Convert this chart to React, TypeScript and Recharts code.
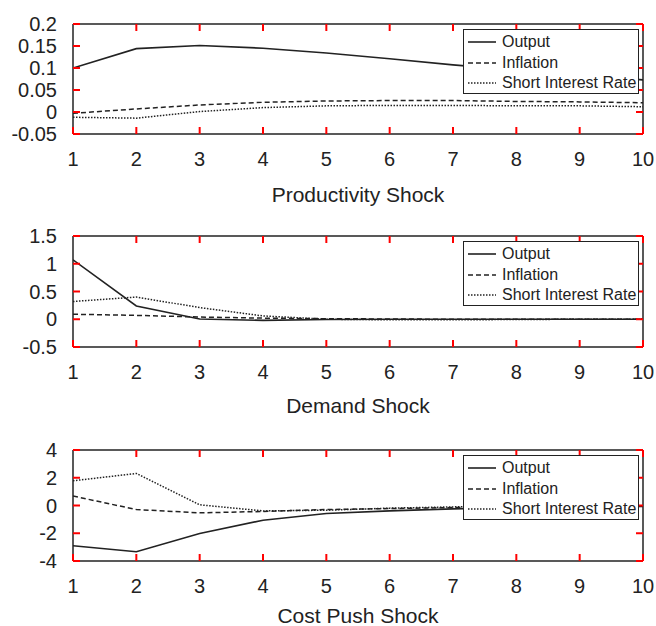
import { LineChart, Line, XAxis, YAxis, Legend, Label } from 'recharts';

const periods = [1, 2, 3, 4, 5, 6, 7, 8, 9, 10];

const productivityOutput = [0.1, 0.144, 0.151, 0.145, 0.134, 0.121, 0.107, 0.095, 0.084, 0.073];
const productivityInflation = [-0.003, 0.007, 0.016, 0.022, 0.025, 0.026, 0.026, 0.024, 0.023, 0.021];
const productivityRate = [-0.012, -0.014, 0.001, 0.01, 0.014, 0.015, 0.015, 0.014, 0.014, 0.012];

const demandOutput = [1.07, 0.24, 0.005, -0.02, -0.005, 0, 0, 0, 0, 0];
const demandInflation = [0.09, 0.07, 0.04, 0.02, 0.01, 0.005, 0, 0, 0, 0];
const demandRate = [0.32, 0.4, 0.21, 0.06, 0, -0.01, -0.01, -0.005, 0, 0];

const costOutput = [-2.9, -3.33, -2.02, -1.06, -0.58, -0.39, -0.24, -0.15, -0.1, -0.06];
const costInflation = [0.68, -0.29, -0.53, -0.43, -0.29, -0.22, -0.15, -0.1, -0.07, -0.05];
const costRate = [1.78, 2.31, 0.05, -0.39, -0.34, -0.19, -0.1, -0.06, -0.04, -0.02];

const productivityTicks = [-0.05, 0, 0.05, 0.1, 0.15, 0.2];
const demandTicks = [-0.5, 0, 0.5, 1, 1.5];
const costTicks = [-4, -2, 0, 2, 4];

const INK = '#222';
const TICK_INK = 'red';
const FONT = '"Liberation Sans", Arial, Helvetica, sans-serif';
const TICK_LEN = 7;
const Y_GAP = 16; // axis -> right end of y labels
const X_GAP = 18; // axis -> top of x labels

const SERIES = [
    { key: 'output', name: 'Output', dash: undefined as string | undefined, width: 1.6 },
    { key: 'inflation', name: 'Inflation', dash: '5 3', width: 1.5 },
    { key: 'rate', name: 'Short Interest Rate', dash: '1.5 1.5', width: 1.5 },
];

function buildRows(output: number[], inflation: number[], rate: number[]) {
    return periods.map((p, i) => ({ period: p, output: output[i], inflation: inflation[i], rate: rate[i] }));
}

const PANELS = [
    { title: 'Productivity Shock', rows: buildRows(productivityOutput, productivityInflation, productivityRate), ticks: productivityTicks, height: 212, axisHeight: 78, titleOffset: 10 },
    { title: 'Demand Shock', rows: buildRows(demandOutput, demandInflation, demandRate), ticks: demandTicks, height: 214, axisHeight: 79, titleOffset: 13 },
    { title: 'Cost Push Shock', rows: buildRows(costOutput, costInflation, costRate), ticks: costTicks, height: 200, axisHeight: 65, titleOffset: 3 },
];

// tick marks point into the plot box, like the original figure
function LeftTick(props: any) {
    const { x, y, payload } = props;
    const ax = Number(x) + Y_GAP;
    return (
        <g>
            <path d={`M${ax},${y}H${ax + TICK_LEN}`} stroke={TICK_INK} strokeWidth={2} fill="none" />
            <text x={x} y={y} dy="0.355em" textAnchor="end" fontSize={20} fill={INK} fontFamily={FONT}>
                {String(payload.value)}
            </text>
        </g>
    );
}

function BottomTick(props: any) {
    const { x, y, payload } = props;
    const ay = Number(y) - X_GAP;
    return (
        <g>
            <path d={`M${x},${ay}V${ay - TICK_LEN}`} stroke={TICK_INK} strokeWidth={2} fill="none" />
            <text x={x} y={y} dy="0.71em" textAnchor="middle" fontSize={20} fill={INK} fontFamily={FONT}>
                {String(payload.value)}
            </text>
        </g>
    );
}

function TopTick(props: any) {
    const { x, y } = props;
    return <path d={`M${x},${y}V${Number(y) + TICK_LEN}`} stroke={TICK_INK} strokeWidth={2} fill="none" />;
}

function RightTick(props: any) {
    const { x, y } = props;
    return <path d={`M${x},${y}H${Number(x) - TICK_LEN}`} stroke={TICK_INK} strokeWidth={2} fill="none" />;
}

function LegendBox() {
    return (
        <div
            style={{
                width: 176,
                height: 65,
                boxSizing: 'border-box',
                border: `1.5px solid ${INK}`,
                background: '#fff',
                padding: '2px 0 0 4px',
                fontFamily: FONT,
                fontSize: 16,
                color: INK,
            }}
        >
            {SERIES.map((s) => (
                <div key={s.key} style={{ display: 'flex', alignItems: 'center', height: 20.5, whiteSpace: 'nowrap' }}>
                    <svg width={28} height={6} style={{ display: 'block' }}>
                        <line x1={0} y1={3} x2={28} y2={3} stroke={INK} strokeWidth={s.width} strokeDasharray={s.dash} />
                    </svg>
                    <span style={{ marginLeft: 6, lineHeight: '20px' }}>{s.name}</span>
                </div>
            ))}
        </div>
    );
}

function Panel({ panel }: { panel: (typeof PANELS)[number] }) {
    const domain = [panel.ticks[0], panel.ticks[panel.ticks.length - 1]];
    const axisLine = { stroke: INK, strokeWidth: 1.5 };
    return (
        <LineChart width={656} height={panel.height} data={panel.rows} margin={{ top: 23, right: 12, bottom: 0, left: 0 }}>
            <XAxis
                dataKey="period"
                type="number"
                domain={[1, 10]}
                ticks={periods}
                interval={0}
                allowDataOverflow
                height={panel.axisHeight}
                tickSize={0}
                tickMargin={X_GAP}
                tick={BottomTick}
                axisLine={axisLine}
                tickLine={false}
            >
                <Label value={panel.title} position="insideBottom" offset={panel.titleOffset} style={{ fontSize: 21, fill: INK, fontFamily: FONT }} />
            </XAxis>
            <XAxis
                xAxisId="top"
                orientation="top"
                type="number"
                domain={[1, 10]}
                ticks={periods}
                interval={0}
                allowDataOverflow
                height={1}
                tickSize={0}
                tickMargin={0}
                tick={TopTick}
                axisLine={axisLine}
                tickLine={false}
            />
            <YAxis
                type="number"
                domain={domain}
                ticks={panel.ticks}
                interval={0}
                allowDataOverflow
                width={73}
                tickSize={0}
                tickMargin={Y_GAP}
                tick={LeftTick}
                axisLine={axisLine}
                tickLine={false}
            />
            <YAxis
                yAxisId="right"
                orientation="right"
                type="number"
                domain={domain}
                ticks={panel.ticks}
                interval={0}
                allowDataOverflow
                width={1}
                tickSize={0}
                tickMargin={0}
                tick={RightTick}
                axisLine={axisLine}
                tickLine={false}
            />
            {SERIES.map((s) => (
                <Line
                    key={s.key}
                    dataKey={s.key}
                    name={s.name}
                    type="linear"
                    stroke={INK}
                    strokeWidth={s.width}
                    strokeDasharray={s.dash}
                    dot={false}
                    activeDot={false}
                    isAnimationActive={false}
                />
            ))}
            <Legend
                layout="vertical"
                align="center"
                verticalAlign="middle"
                wrapperStyle={{ top: 29, left: 463, width: 176 }}
                content={() => <LegendBox />}
            />
        </LineChart>
    );
}

export default function App() {
    return (
        <div style={{ position: 'absolute', left: 0, top: 0, width: 656, height: 626, background: '#fff', fontFamily: FONT }}>
            {PANELS.map((p) => (
                <Panel key={p.title} panel={p} />
            ))}
        </div>
    );
}
